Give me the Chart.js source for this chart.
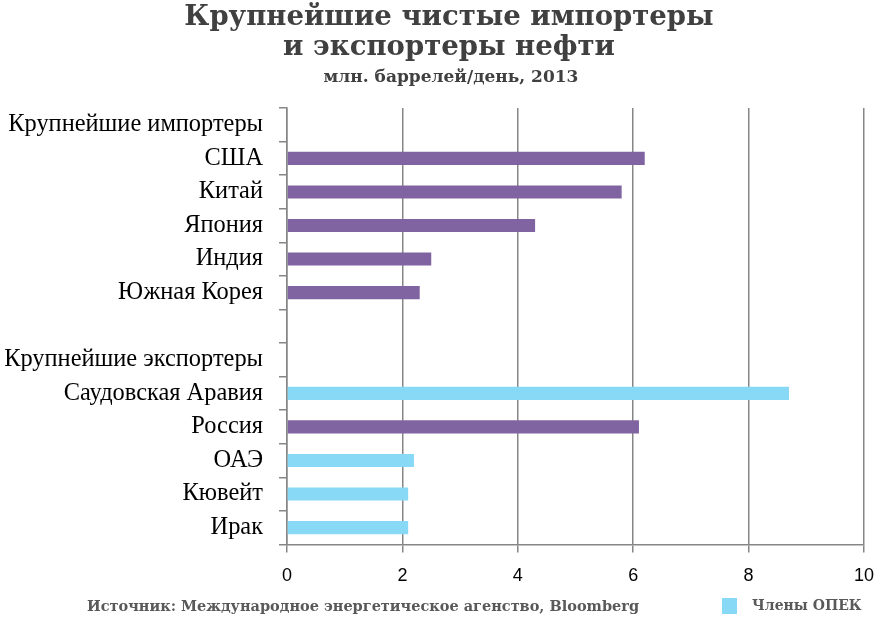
<!DOCTYPE html>
<html>
<head>
<meta charset="utf-8">
<script src="https://cdn.jsdelivr.net/npm/chart.js@4"></script>
<style>
  html, body { margin: 0; padding: 0; background: #fff; }
  #wrap { width: 887px; height: 626px; }
</style>
</head>
<body>
<div id="wrap"><canvas id="chart" width="887" height="626"></canvas></div>
<script>
const categories = [
  "Крупнейшие импортеры", "США", "Китай", "Япония", "Индия", "Южная Корея",
  "", "Крупнейшие экспортеры", "Саудовская Аравия", "Россия", "ОАЭ", "Кювейт", "Ирак"
];
const values = [null, 6.2, 5.8, 4.3, 2.5, 2.3, null, null, 8.7, 6.1, 2.2, 2.1, 2.1];
const opecMember = [false, false, false, false, false, false, false, false, true, false, true, true, true];
const xTicks = [0, 2, 4, 6, 8, 10];

const titleLines = ["Крупнейшие чистые импортеры", "и экспортеры нефти"];
const subtitle = "млн. баррелей/день, 2013";
const source = "Источник: Международное энергетическое агенство, Bloomberg";
const legendText = "Члены ОПЕК";

const purple = "#8064a2";
const blue = "#87d9f5";
const axisGray = "#868686";

// titles, source line and the one-item legend
const textPlugin = {
  id: "texts",
  afterDraw(chart) {
    const c = chart.ctx;
    c.save();
    c.textBaseline = "middle";
    c.textAlign = "center";
    c.fillStyle = "#404040";
    c.font = "bold 27.5px 'DejaVu Serif'";
    c.fillText(titleLines[0], 449, 18);
    c.fillText(titleLines[1], 449, 48);
    c.font = "bold 17px 'DejaVu Serif'";
    c.fillText(subtitle, 451, 78);

    c.textAlign = "left";
    c.fillStyle = "#595959";
    c.font = "bold 14.5px 'DejaVu Serif'";
    c.fillText(source, 87, 607);

    c.fillStyle = blue;
    c.fillRect(722, 598, 15, 16);
    c.fillStyle = "#595959";
    c.font = "bold 14px 'DejaVu Serif'";
    c.fillText(legendText, 752, 606);
    c.restore();
  }
};

const ctx = document.getElementById("chart").getContext("2d");
const chart = new Chart(ctx, {
  type: "bar",
  data: {
    labels: categories,
    datasets: [{
      label: legendText,
      data: values,
      backgroundColor: opecMember.map((m) => (m ? blue : purple)),
      barPercentage: 0.39,
      categoryPercentage: 1,
    }],
  },
  options: {
    indexAxis: "y",
    responsive: false,
    animation: false,
    layout: { padding: { left: 4, right: 21, top: 108, bottom: 26 } },
    plugins: {
      legend: { display: false },
      tooltip: { enabled: false },
    },
    scales: {
      x: {
        min: 0,
        max: 10,
        afterBuildTicks: (axis) => { axis.ticks = xTicks.map((v) => ({ value: v })); },
        grid: { color: axisGray, lineWidth: 1.5, tickLength: 8 },
        border: { display: true, color: axisGray, width: 1.5 },
        ticks: {
          color: "#000",
          font: { family: "'Liberation Sans'", size: 18 },
          padding: 13,
        },
      },
      y: {
        afterFit: (axis) => { axis.width = 283; },
        grid: { offset: true, drawOnChartArea: false, color: axisGray, lineWidth: 1.5, tickLength: 8 },
        border: { display: true, color: axisGray, width: 1.5 },
        ticks: {
          color: "#000",
          font: { family: "'Liberation Serif'", size: 24.4 },
          padding: 16,
          autoSkip: false,
        },
      },
    },
  },
  plugins: [textPlugin],
});
</script>
</body>
</html>
